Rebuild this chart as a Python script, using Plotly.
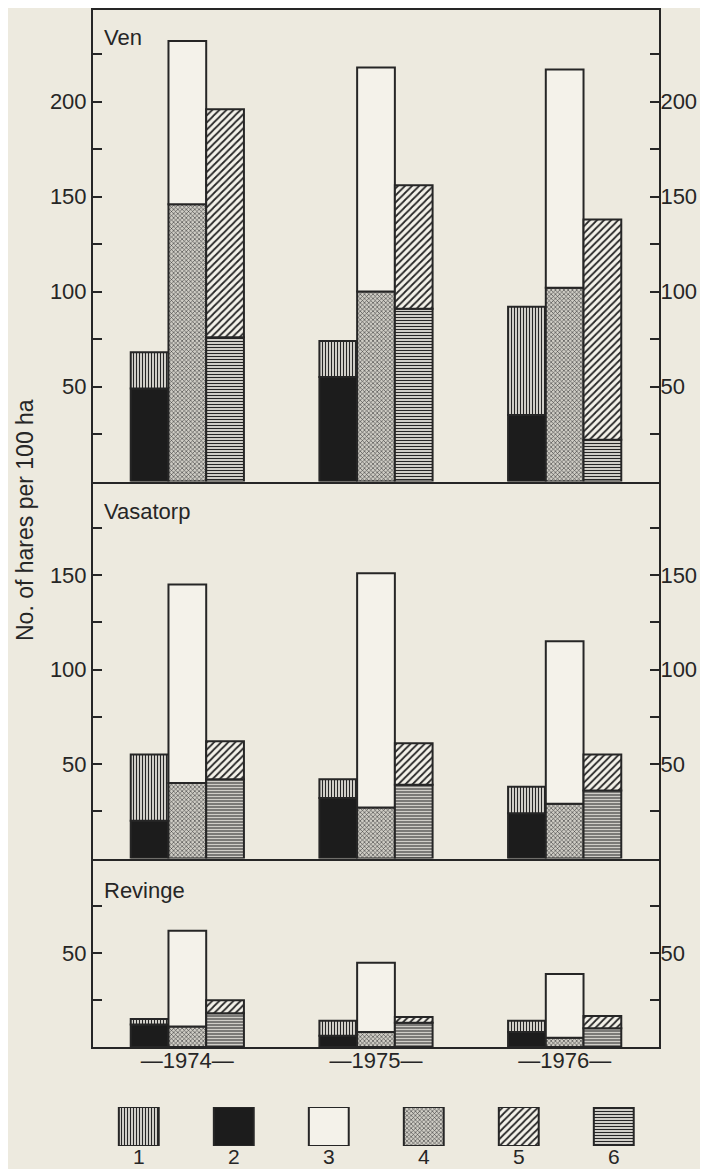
import plotly.graph_objects as go

# ---------------- data ----------------
years = ["1974", "1975", "1976"]
year_labels = ["—1974—", "—1975—", "—1976—"]
site_names = ["Ven", "Vasatorp", "Revinge"]

# Ven
ven_c1 = [19, 19, 57]
ven_c2 = [49, 55, 35]
ven_c3 = [86, 118, 115]
ven_c4 = [146, 100, 102]
ven_c5 = [120, 65, 116]
ven_c6 = [76, 91, 22]

# Vasatorp
vas_c1 = [35, 10, 14]
vas_c2 = [20, 32, 24]
vas_c3 = [105, 124, 86]
vas_c4 = [40, 27, 29]
vas_c5 = [20, 22, 19]
vas_c6 = [42, 39, 36]

# Revinge
rev_c1 = [3, 8, 6]
rev_c2 = [12, 6, 8]
rev_c3 = [51, 37, 34]
rev_c4 = [11, 8, 5]
rev_c5 = [7, 3, 6.5]
rev_c6 = [18, 13, 10]

legend_keys = ["1", "2", "3", "4", "5", "6"]
legend_val = 1

ven_ticks = [25, 50, 75, 100, 125, 150, 175, 200, 225]
ven_ticktext = ["", "50", "", "100", "", "150", "", "200", ""]
vas_ticks = [25, 50, 75, 100, 125, 150, 175]
vas_ticktext = ["", "50", "", "100", "", "150", ""]
rev_ticks = [25, 50, 75]
rev_ticktext = ["", "50", ""]

# ---------------- styles ----------------
PAPER = "#edeadf"
INK = "#262626"
LIGHT = "#f4f2ea"
FONT = "Liberation Sans, Arial, Helvetica, sans-serif"

styles = {
    "1": dict(shape="|", size=3, solidity=0.45, bg=LIGHT, fg=INK, color=LIGHT),
    "2": dict(shape="", size=8, solidity=0.3, bg="#1c1c1c", fg="#1c1c1c", color="#1c1c1c"),
    "3": dict(shape="", size=8, solidity=0.3, bg=LIGHT, fg=LIGHT, color=LIGHT),
    "4": dict(shape="x", size=3, solidity=0.35, bg="#cfcdc5", fg="#3a3a3a", color="#9a9890"),
    "5": dict(shape="/", size=5, solidity=0.35, bg=LIGHT, fg=INK, color=LIGHT),
    "6": dict(shape="-", size=3, solidity=0.45, bg=LIGHT, fg=INK, color=LIGHT),
}


def bar(key, x, y, base, group, xa, ya, width=None):
    s = styles[key]
    return go.Bar(
        x=x, y=y, base=base, offsetgroup=group, width=width,
        xaxis=xa, yaxis=ya, showlegend=False, hoverinfo="skip",
        marker=dict(
            color=s["color"],
            line=dict(color=INK, width=2),
            pattern=dict(shape=s["shape"], size=s["size"], solidity=s["solidity"],
                         bgcolor=s["bg"], fgcolor=s["fg"], fillmode="replace"),
        ),
    )


fig = go.Figure()

panels = [
    (ven_c1, ven_c2, ven_c3, ven_c4, ven_c5, ven_c6, "x", "y", "y5"),
    (vas_c1, vas_c2, vas_c3, vas_c4, vas_c5, vas_c6, "x2", "y2", "y6"),
    (rev_c1, rev_c2, rev_c3, rev_c4, rev_c5, rev_c6, "x3", "y3", "y7"),
]
for c1, c2, c3, c4, c5, c6, xa, ya, ya_r in panels:
    fig.add_trace(bar("2", years, c2, [0, 0, 0], "A", xa, ya))
    fig.add_trace(bar("1", years, c1, c2, "A", xa, ya))
    fig.add_trace(bar("4", years, c4, [0, 0, 0], "B", xa, ya))
    fig.add_trace(bar("3", years, c3, c4, "B", xa, ya))
    fig.add_trace(bar("6", years, c6, [0, 0, 0], "C", xa, ya))
    fig.add_trace(bar("5", years, c5, c6, "C", xa, ya))
    # invisible carrier so the right-hand mirror axis is drawn
    fig.add_trace(go.Scatter(x=years, y=c4, xaxis=xa, yaxis=ya_r, mode="markers",
                             marker=dict(opacity=0), showlegend=False,
                             hoverinfo="skip"))

# legend row as its own small subplot
for k in legend_keys:
    fig.add_trace(bar(k, [k], [legend_val], [0], "L", "x4", "y4", width=0.42))

# The page body has an 8 px margin, so the figure is 8 px smaller and every
# reference pixel position maps to (ref - 8) inside the figure.
OFF = 8
W = 708 - OFF
H = 1169 - OFF


def dom(top_ref, bot_ref):
    return [1 - (bot_ref - OFF) / H, 1 - (top_ref - OFF) / H]


def py(ref_y):
    return 1 - (ref_y - OFF) / H


X0, X1 = 93, 659
PW = X1 - X0


def px(ref_x):
    return (ref_x - X0) / PW


tickfont = dict(family=FONT, size=22, color=INK)

common_x = dict(type="category", categoryorder="array", categoryarray=years,
                range=[-0.5, 2.5], showgrid=False, zeroline=False,
                showline=True, linecolor=INK, linewidth=2, ticks="",
                fixedrange=True)


def yax(domain, rng, tv, tt, anchor, side="left", overlaying=None):
    d = dict(domain=domain, range=rng, tickvals=tv, ticktext=tt, anchor=anchor,
             side=side, showgrid=False, zeroline=False, showline=True,
             linecolor=INK, linewidth=2, ticks="inside", ticklen=9, tickwidth=2,
             tickcolor=INK, tickfont=tickfont,
             ticklabelstandoff=(0 if side == "left" else -5),
             fixedrange=True)
    if overlaying:
        d["overlaying"] = overlaying
    return d


ven_dom = dom(10, 481.5)
vas_dom = dom(481.5, 858.5)
rev_dom = dom(858.5, 1047)
leg_dom = dom(1107, 1146)

ven_rng = [0, 248.3]
vas_rng = [0, 199.5]
rev_rng = [0, 100.6]

fig.update_layout(
    width=W, height=H,
    margin=dict(l=X0 - OFF, r=W - (X1 - OFF), t=0, b=0, autoexpand=False),
    paper_bgcolor=PAPER, plot_bgcolor="rgba(0,0,0,0)",
    barmode="group", bargap=0.4, bargroupgap=0,
    font=dict(family=FONT, color=INK, size=22),
    xaxis=dict(common_x, anchor="y", mirror=True, showticklabels=False),
    xaxis2=dict(common_x, anchor="y2", showticklabels=False),
    xaxis3=dict(common_x, anchor="y3", showticklabels=True,
                tickvals=years, ticktext=year_labels, tickfont=tickfont,
                ticklabelstandoff=-7),
    xaxis4=dict(type="category", categoryorder="array", categoryarray=legend_keys,
                anchor="y4", range=[-0.482, 5.476],
                showgrid=False, zeroline=False, showline=False, ticks="",
                tickfont=dict(family=FONT, size=21, color=INK),
                ticklabelstandoff=-4, fixedrange=True),
    yaxis=yax(ven_dom, ven_rng, ven_ticks, ven_ticktext, "x"),
    yaxis2=yax(vas_dom, vas_rng, vas_ticks, vas_ticktext, "x2"),
    yaxis3=yax(rev_dom, rev_rng, rev_ticks, rev_ticktext, "x3"),
    yaxis4=dict(domain=leg_dom, range=[0, 1], anchor="x4", visible=False,
                fixedrange=True),
    yaxis5=yax(ven_dom, ven_rng, ven_ticks, ven_ticktext, "x", side="right", overlaying="y"),
    yaxis6=yax(vas_dom, vas_rng, vas_ticks, vas_ticktext, "x2", side="right", overlaying="y2"),
    yaxis7=yax(rev_dom, rev_rng, rev_ticks, rev_ticktext, "x3", side="right", overlaying="y3"),
)

# panel titles
title_pos = [(37.5, site_names[0]), (511.7, site_names[1]), (890, site_names[2])]
for ypos, name in title_pos:
    fig.add_annotation(text=name, xref="paper", yref="paper",
                       x=px(102), y=py(ypos),
                       xanchor="left", yanchor="middle", showarrow=False,
                       font=dict(family=FONT, size=22, color=INK))

# y-axis title
fig.add_annotation(text="No. of hares per 100 ha", xref="paper", yref="paper",
                   x=px(25), y=py(520), textangle=-90,
                   xanchor="center", yanchor="middle", showarrow=False,
                   font=dict(family=FONT, size=23, color=INK))

fig.write_html("out.html")
